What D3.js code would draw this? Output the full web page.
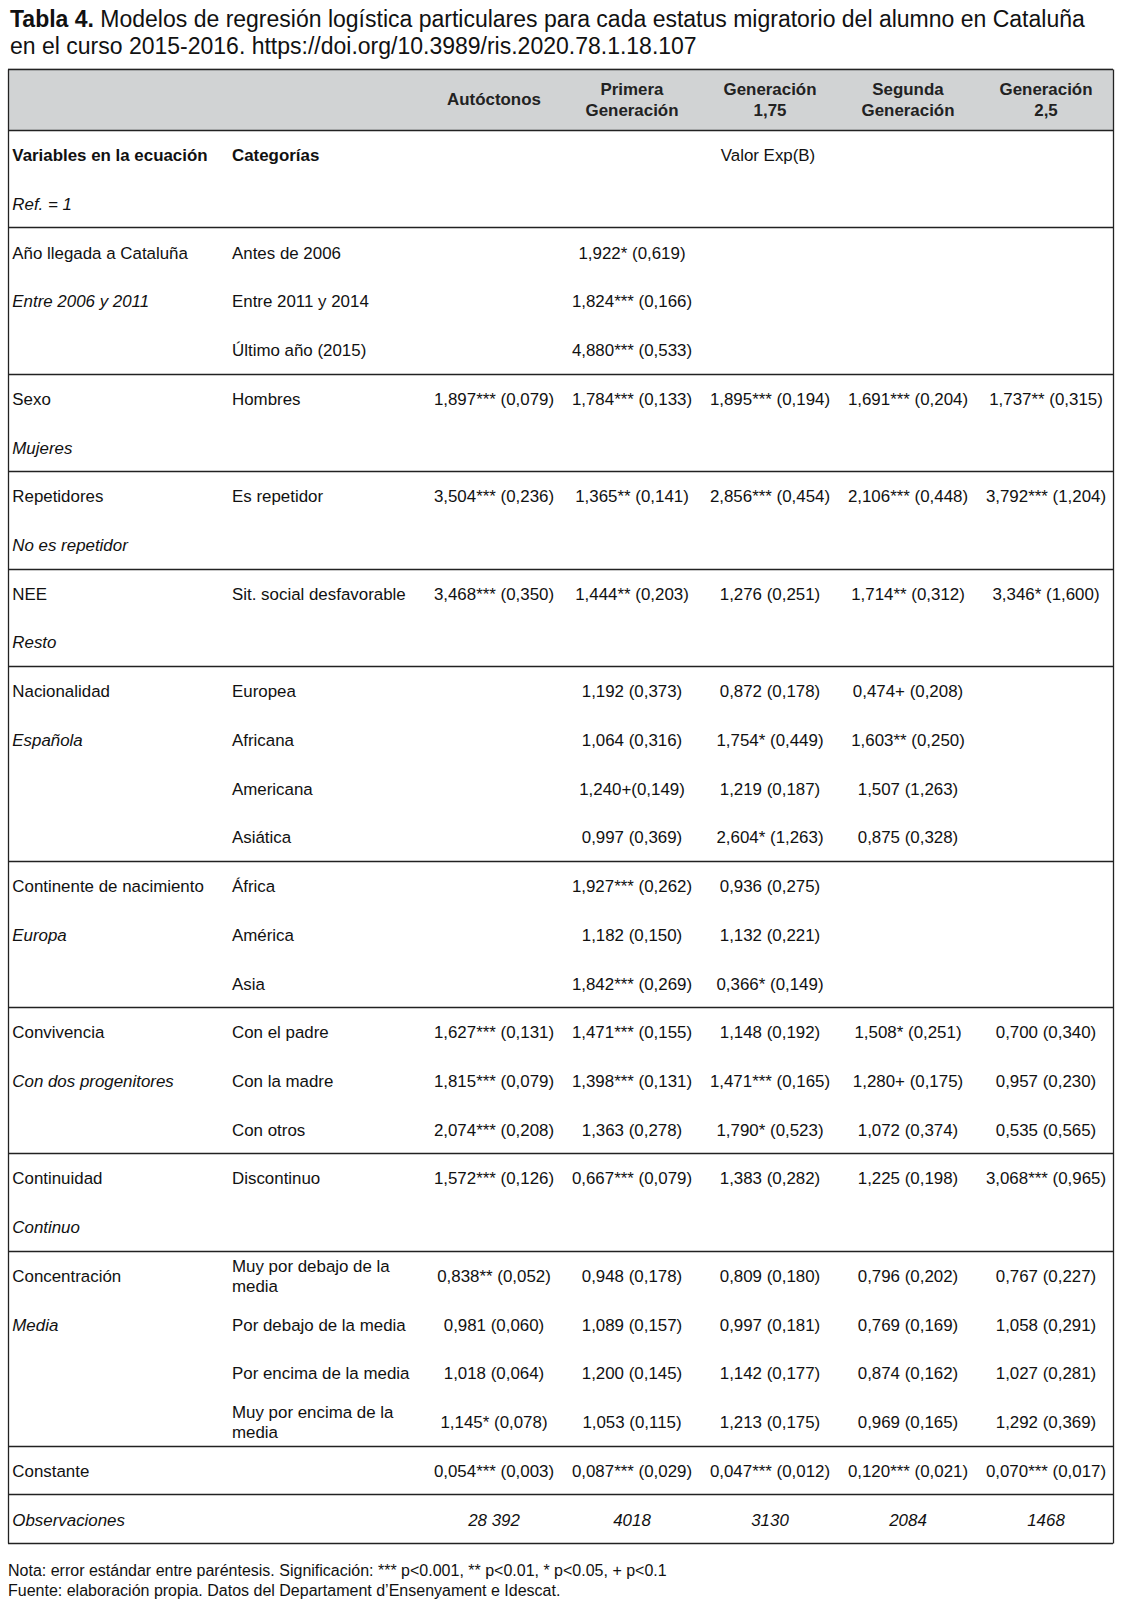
<!DOCTYPE html>
<html><head><meta charset="utf-8">
<script src="https://cdn.jsdelivr.net/npm/d3@7"></script>
<style>
body{margin:0;background:#fff}
svg{display:block}
text{font-family:"Liberation Sans",Arial,Helvetica,sans-serif;fill:#111}
</style>
</head><body>
<svg id="chart" width="1123" height="1603"></svg>
<script>
// ---------- DATA ----------
const titleBold = "Tabla 4.";
const titleLines = [" Modelos de regresión logística particulares para cada estatus migratorio del alumno en Cataluña",
                    "en el curso 2015-2016. https://doi.org/10.3989/ris.2020.78.1.18.107"];
const columnKeys = ["aut","pri","g175","seg","g25"];
const columnHeaders = [["Autóctonos"],["Primera","Generación"],["Generación","1,75"],["Segunda","Generación"],["Generación","2,5"]];
const headRow1 = ["Variables en la ecuación","Categorías","Valor Exp(B)"];
const headRow2 = "Ref. = 1";
const variables = ["Año llegada a Cataluña","Sexo","Repetidores","NEE","Nacionalidad","Continente de nacimiento",
                   "Convivencia","Continuidad","Concentración","Constante","Observaciones"];
const references = ["Entre 2006 y 2011","Mujeres","No es repetidor","Resto","Española","Europa",
                    "Con dos progenitores","Continuo","Media","",""];
const categories = [
  ["Antes de 2006","Entre 2011 y 2014","Último año (2015)"],
  ["Hombres"],
  ["Es repetidor"],
  ["Sit. social desfavorable"],
  ["Europea","Africana","Americana","Asiática"],
  ["África","América","Asia"],
  ["Con el padre","Con la madre","Con otros"],
  ["Discontinuo"],
  ["Muy por debajo de la\nmedia","Por debajo de la media","Por encima de la media","Muy por encima de la\nmedia"],
  [""],
  [""]
];
// values per column, one entry per category row (in order above)
const autoctonos = ["","","",
  "1,897*** (0,079)","3,504*** (0,236)","3,468*** (0,350)",
  "","","","", "","","",
  "1,627*** (0,131)","1,815*** (0,079)","2,074*** (0,208)",
  "1,572*** (0,126)",
  "0,838** (0,052)","0,981 (0,060)","1,018 (0,064)","1,145* (0,078)",
  "0,054*** (0,003)","28 392"];
const primera = ["1,922* (0,619)","1,824*** (0,166)","4,880*** (0,533)",
  "1,784*** (0,133)","1,365** (0,141)","1,444** (0,203)",
  "1,192 (0,373)","1,064 (0,316)","1,240+(0,149)","0,997 (0,369)",
  "1,927*** (0,262)","1,182 (0,150)","1,842*** (0,269)",
  "1,471*** (0,155)","1,398*** (0,131)","1,363 (0,278)",
  "0,667*** (0,079)",
  "0,948 (0,178)","1,089 (0,157)","1,200 (0,145)","1,053 (0,115)",
  "0,087*** (0,029)","4018"];
const gen175 = ["","","",
  "1,895*** (0,194)","2,856*** (0,454)","1,276 (0,251)",
  "0,872 (0,178)","1,754* (0,449)","1,219 (0,187)","2,604* (1,263)",
  "0,936 (0,275)","1,132 (0,221)","0,366* (0,149)",
  "1,148 (0,192)","1,471*** (0,165)","1,790* (0,523)",
  "1,383 (0,282)",
  "0,809 (0,180)","0,997 (0,181)","1,142 (0,177)","1,213 (0,175)",
  "0,047*** (0,012)","3130"];
const segunda = ["","","",
  "1,691*** (0,204)","2,106*** (0,448)","1,714** (0,312)",
  "0,474+ (0,208)","1,603** (0,250)","1,507 (1,263)","0,875 (0,328)",
  "","","",
  "1,508* (0,251)","1,280+ (0,175)","1,072 (0,374)",
  "1,225 (0,198)",
  "0,796 (0,202)","0,769 (0,169)","0,874 (0,162)","0,969 (0,165)",
  "0,120*** (0,021)","2084"];
const gen25 = ["","","",
  "1,737** (0,315)","3,792*** (1,204)","3,346* (1,600)",
  "","","","", "","","",
  "0,700 (0,340)","0,957 (0,230)","0,535 (0,565)",
  "3,068*** (0,965)",
  "0,767 (0,227)","1,058 (0,291)","1,027 (0,281)","1,292 (0,369)",
  "0,070*** (0,017)","1468"];
const notes = ["Nota: error estándar entre paréntesis. Significación: *** p<0.001, ** p<0.01, * p<0.05, + p<0.1",
               "Fuente: elaboración propia. Datos del Departament d’Ensenyament e Idescat."];

// ---------- LAYOUT ----------
const svg = d3.select("#chart");
const W = 1123;
const tableLeft = 8, tableRight = 1113, headTop = 68.5, headBottom = 130, tableBottom = 1543;
const varX = 12.3, catX = 232;
const fs = 16.9;
const lineColor = "#222";

svg.append("rect").attr("width", W).attr("height", 1603).attr("fill", "#fff");

// Title
titleLines.forEach((t, i) => {
  const tx = svg.append("text").attr("x", 10).attr("y", 26.6 + i * 27.6).attr("font-size", 23);
  if (i === 0) tx.append("tspan").attr("font-weight", "bold").text(titleBold);
  tx.append("tspan").text(t);
});

// Build rows
const valueCols = [autoctonos, primera, gen175, segunda, gen25];
const rows = [];
rows.push({kind: "head1"});
rows.push({kind: "head2"});
const blockEnds = [];
let catIdx = 0;
variables.forEach((v, b) => {
  const cats = categories[b];
  const n = Math.max(cats.length, references[b] ? 2 : 1);
  for (let r = 0; r < n; r++) {
    const row = {kind: "data", variable: r === 0 ? v : "", reference: r === 1 ? references[b] : "",
                 category: r < cats.length ? cats[r] : "", values: null,
                 italic: v === "Observaciones"};
    if (r < cats.length) { row.values = valueCols.map(c => c[catIdx]); catIdx++; }
    rows.push(row);
  }
  blockEnds.push(rows.length);
});

const y = d3.scaleBand().domain(d3.range(rows.length)).range([headBottom, tableBottom]);
const x = d3.scalePoint().domain(columnKeys).range([494, 1046]);

// Header band
svg.append("rect").attr("x", tableLeft).attr("y", headTop)
  .attr("width", tableRight - tableLeft).attr("height", headBottom - headTop).attr("fill", "#d1d3d4");

columnHeaders.forEach((h, i) => {
  const cy = (headTop + headBottom) / 2;
  h.forEach((line, j) => {
    svg.append("text").attr("x", x(columnKeys[i])).attr("y", cy + (j - (h.length - 1) / 2) * 21.5)
      .attr("dy", "0.36em").attr("text-anchor", "middle").attr("font-weight", "bold")
      .attr("font-size", fs).style("fill", "#222").text(line);
  });
});

// Rows
const g = svg.append("g");
rows.forEach((row, i) => {
  const cy = y(i) + y.bandwidth() / 2 + 0.8;
  if (row.kind === "head1") {
    g.append("text").attr("x", varX).attr("y", cy).attr("dy", "0.36em").attr("font-weight", "bold").attr("font-size", fs).text(headRow1[0]);
    g.append("text").attr("x", catX).attr("y", cy).attr("dy", "0.36em").attr("font-weight", "bold").attr("font-size", fs).text(headRow1[1]);
    g.append("text").attr("x", x("g175") - 2).attr("y", cy).attr("dy", "0.36em").attr("text-anchor", "middle").attr("font-size", fs).text(headRow1[2]);
    return;
  }
  if (row.kind === "head2") {
    g.append("text").attr("x", varX).attr("y", cy).attr("dy", "0.36em").attr("font-style", "italic").attr("font-size", fs).text(headRow2);
    return;
  }
  if (row.variable) g.append("text").attr("x", varX).attr("y", cy).attr("dy", "0.36em")
      .attr("font-size", fs).attr("font-style", row.italic ? "italic" : null).text(row.variable);
  if (row.reference) g.append("text").attr("x", varX).attr("y", cy).attr("dy", "0.36em")
      .attr("font-size", fs).attr("font-style", "italic").text(row.reference);
  if (row.category) {
    const parts = row.category.split("\n");
    parts.forEach((p, j) => {
      g.append("text").attr("x", catX).attr("y", cy + (j - (parts.length - 1) / 2) * 20.5).attr("dy", "0.36em")
        .attr("font-size", fs).text(p);
    });
  }
  if (row.values) {
    row.values.forEach((v, k) => {
      if (!v) return;
      g.append("text").attr("x", x(columnKeys[k])).attr("y", cy).attr("dy", "0.36em")
        .attr("text-anchor", "middle").attr("font-size", fs)
        .attr("font-style", row.italic ? "italic" : null).text(v);
    });
  }
});

// Horizontal rules
const ruleYs = [headTop, headBottom, y(2)].concat(blockEnds.map(e => e < rows.length ? y(e) : tableBottom));
svg.append("g").selectAll("line").data(ruleYs).join("line")
  .attr("x1", tableLeft).attr("x2", tableRight)
  .attr("y1", d => Math.round(d) + 0.5).attr("y2", d => Math.round(d) + 0.5)
  .attr("stroke", lineColor).attr("stroke-width", 1.3);
// Vertical borders
[tableLeft, tableRight].forEach(vx => {
  svg.append("line").attr("x1", vx + 0.5).attr("x2", vx + 0.5).attr("y1", Math.round(headTop) + 0.5).attr("y2", Math.round(tableBottom) + 0.5)
    .attr("stroke", lineColor).attr("stroke-width", 1.3);
});

// Notes
notes.forEach((n, i) => {
  svg.append("text").attr("x", 8).attr("y", 1576 + i * 20).attr("font-size", 16).text(n);
});
</script>
</body></html>
